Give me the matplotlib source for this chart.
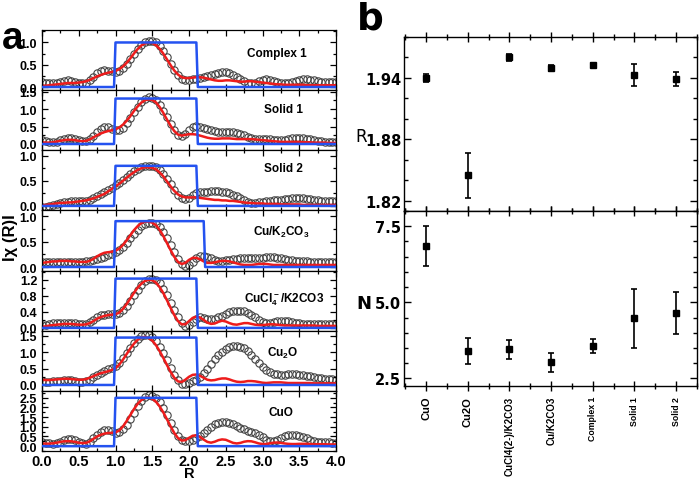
import numpy as np
import matplotlib.pyplot as plt
from matplotlib.ticker import MultipleLocator

plt.rcParams['font.family'] = ['Liberation Sans', 'DejaVu Sans']
plt.rcParams['font.weight'] = 'bold'
plt.rcParams['mathtext.fontset'] = 'custom'
plt.rcParams['mathtext.rm'] = 'Liberation Sans:bold'
plt.rcParams['mathtext.bf'] = 'Liberation Sans:bold'
plt.rcParams['mathtext.default'] = 'bf'

# ---- panel a: |chi(R)| on an R grid 0..4 (step 0.05) ----
r_grid = np.round(np.arange(81) * 0.05, 2)

# open circles (data) and red line (fit)
exp_complex1 = [0.11, 0.10, 0.09, 0.09, 0.10, 0.12, 0.14, 0.15, 0.14, 0.12, 0.10, 0.09, 0.10, 0.15, 0.23, 0.31, 0.36, 0.38, 0.37, 0.35,
                0.34, 0.36, 0.42, 0.51, 0.62, 0.74, 0.86, 0.95, 1.01, 1.04, 1.04, 1.00, 0.92, 0.81, 0.67, 0.52, 0.38, 0.26, 0.18, 0.15,
                0.15, 0.17, 0.19, 0.21, 0.23, 0.25, 0.28, 0.30, 0.32, 0.33, 0.33, 0.32, 0.28, 0.23, 0.18, 0.13, 0.10, 0.09, 0.10, 0.13,
                0.16, 0.17, 0.16, 0.14, 0.11, 0.09, 0.08, 0.09, 0.11, 0.13, 0.15, 0.17, 0.17, 0.16, 0.15, 0.13, 0.12, 0.11, 0.11, 0.11, 0.11]
fit_complex1 = [0.03, 0.03, 0.04, 0.05, 0.06, 0.07, 0.08, 0.09, 0.09, 0.09, 0.10, 0.11, 0.13, 0.16, 0.20, 0.24, 0.27, 0.30, 0.32, 0.34,
                0.36, 0.40, 0.46, 0.54, 0.64, 0.75, 0.85, 0.93, 0.98, 1.00, 0.99, 0.94, 0.86, 0.75, 0.62, 0.49, 0.37, 0.28, 0.22, 0.20,
                0.20, 0.21, 0.22, 0.22, 0.21, 0.19, 0.17, 0.15, 0.14, 0.14, 0.15, 0.15, 0.14, 0.13, 0.12, 0.12, 0.13, 0.13, 0.12, 0.11,
                0.10, 0.09, 0.08, 0.07, 0.06, 0.06, 0.05, 0.05, 0.05, 0.05, 0.05, 0.05, 0.04, 0.04, 0.04, 0.04, 0.04, 0.04, 0.04, 0.04, 0.04]

exp_solid1 = [0.12, 0.09, 0.06, 0.05, 0.07, 0.10, 0.14, 0.17, 0.17, 0.15, 0.11, 0.08, 0.08, 0.13, 0.22, 0.33, 0.43, 0.48, 0.48, 0.44,
              0.39, 0.40, 0.47, 0.59, 0.74, 0.91, 1.07, 1.20, 1.29, 1.33, 1.32, 1.25, 1.12, 0.95, 0.76, 0.56, 0.39, 0.27, 0.24, 0.30,
              0.40, 0.48, 0.51, 0.50, 0.47, 0.43, 0.40, 0.37, 0.35, 0.34, 0.34, 0.35, 0.34, 0.32, 0.29, 0.25, 0.21, 0.17, 0.15, 0.14,
              0.14, 0.14, 0.13, 0.12, 0.11, 0.11, 0.12, 0.14, 0.16, 0.17, 0.17, 0.17, 0.15, 0.13, 0.11, 0.09, 0.08, 0.07, 0.07, 0.07, 0.07]
fit_solid1 = [0.05, 0.04, 0.04, 0.05, 0.07, 0.09, 0.11, 0.12, 0.12, 0.11, 0.09, 0.08, 0.09, 0.13, 0.19, 0.25, 0.30, 0.34, 0.37, 0.39,
              0.42, 0.47, 0.55, 0.66, 0.79, 0.94, 1.07, 1.18, 1.25, 1.28, 1.26, 1.19, 1.06, 0.89, 0.70, 0.52, 0.37, 0.27, 0.24, 0.26,
              0.28, 0.28, 0.27, 0.24, 0.21, 0.18, 0.16, 0.15, 0.15, 0.16, 0.16, 0.16, 0.15, 0.14, 0.14, 0.14, 0.14, 0.14, 0.13, 0.12,
              0.11, 0.10, 0.09, 0.08, 0.07, 0.06, 0.06, 0.06, 0.06, 0.06, 0.06, 0.05, 0.05, 0.05, 0.04, 0.04, 0.04, 0.04, 0.03, 0.03, 0.03]

exp_solid2 = [-0.03, -0.02, 0.00, 0.02, 0.04, 0.05, 0.07, 0.08, 0.09, 0.09, 0.09, 0.09, 0.10, 0.12, 0.15, 0.19, 0.23, 0.27, 0.31, 0.36,
              0.41, 0.46, 0.52, 0.58, 0.64, 0.69, 0.74, 0.77, 0.79, 0.80, 0.80, 0.77, 0.72, 0.64, 0.54, 0.43, 0.32, 0.22, 0.15, 0.13,
              0.16, 0.21, 0.25, 0.27, 0.28, 0.28, 0.29, 0.29, 0.29, 0.28, 0.27, 0.25, 0.22, 0.19, 0.15, 0.11, 0.08, 0.06, 0.06, 0.07,
              0.08, 0.09, 0.10, 0.11, 0.11, 0.12, 0.13, 0.14, 0.15, 0.15, 0.15, 0.15, 0.14, 0.13, 0.12, 0.11, 0.10, 0.10, 0.09, 0.09, 0.09]
fit_solid2 = [0.01, 0.02, 0.03, 0.04, 0.05, 0.06, 0.06, 0.07, 0.07, 0.08, 0.09, 0.10, 0.11, 0.13, 0.15, 0.18, 0.21, 0.24, 0.29, 0.34,
              0.39, 0.44, 0.50, 0.56, 0.62, 0.67, 0.72, 0.75, 0.77, 0.77, 0.76, 0.73, 0.67, 0.59, 0.49, 0.39, 0.30, 0.23, 0.19, 0.17,
              0.17, 0.17, 0.17, 0.16, 0.15, 0.14, 0.13, 0.12, 0.12, 0.11, 0.11, 0.10, 0.10, 0.09, 0.08, 0.07, 0.06, 0.06, 0.05, 0.05,
              0.05, 0.04, 0.04, 0.04, 0.04, 0.03, 0.03, 0.03, 0.03, 0.03, 0.03, 0.02, 0.02, 0.02, 0.02, 0.02, 0.02, 0.02, 0.02, 0.02, 0.02]

exp_cuk2co3 = [0.09, 0.09, 0.09, 0.09, 0.10, 0.10, 0.10, 0.10, 0.10, 0.10, 0.10, 0.10, 0.11, 0.12, 0.14, 0.16, 0.18, 0.20, 0.23, 0.26,
               0.29, 0.34, 0.40, 0.48, 0.56, 0.65, 0.73, 0.80, 0.84, 0.86, 0.86, 0.84, 0.78, 0.69, 0.57, 0.43, 0.29, 0.16, 0.06, 0.01,
               0.03, 0.10, 0.17, 0.21, 0.22, 0.20, 0.17, 0.14, 0.12, 0.12, 0.13, 0.14, 0.15, 0.16, 0.17, 0.17, 0.17, 0.17, 0.17, 0.18,
               0.18, 0.19, 0.19, 0.19, 0.18, 0.17, 0.15, 0.14, 0.13, 0.12, 0.12, 0.11, 0.11, 0.10, 0.10, 0.10, 0.10, 0.10, 0.10, 0.09, 0.09]
fit_cuk2co3 = [0.08, 0.09, 0.10, 0.11, 0.11, 0.12, 0.12, 0.12, 0.11, 0.11, 0.10, 0.10, 0.10, 0.12, 0.16, 0.21, 0.25, 0.28, 0.29, 0.30,
               0.32, 0.36, 0.43, 0.52, 0.62, 0.72, 0.80, 0.86, 0.89, 0.89, 0.87, 0.82, 0.73, 0.61, 0.47, 0.33, 0.20, 0.10, 0.06, 0.08,
               0.14, 0.18, 0.18, 0.15, 0.11, 0.08, 0.08, 0.09, 0.11, 0.12, 0.12, 0.11, 0.09, 0.07, 0.05, 0.04, 0.04, 0.04, 0.05, 0.06,
               0.06, 0.06, 0.05, 0.04, 0.04, 0.04, 0.04, 0.04, 0.04, 0.04, 0.04, 0.04, 0.04, 0.04, 0.04, 0.04, 0.04, 0.04, 0.04, 0.04, 0.04]

exp_cucl4 = [0.07, 0.08, 0.10, 0.11, 0.12, 0.13, 0.13, 0.13, 0.12, 0.11, 0.10, 0.09, 0.10, 0.14, 0.20, 0.26, 0.31, 0.33, 0.34, 0.34,
             0.34, 0.37, 0.44, 0.54, 0.67, 0.81, 0.95, 1.07, 1.16, 1.21, 1.22, 1.19, 1.11, 0.98, 0.82, 0.63, 0.44, 0.26, 0.12, 0.05,
             0.07, 0.15, 0.23, 0.26, 0.25, 0.23, 0.22, 0.23, 0.26, 0.30, 0.35, 0.39, 0.42, 0.43, 0.43, 0.41, 0.37, 0.32, 0.26, 0.20,
             0.15, 0.13, 0.13, 0.14, 0.16, 0.17, 0.18, 0.17, 0.15, 0.13, 0.11, 0.10, 0.09, 0.09, 0.09, 0.10, 0.10, 0.10, 0.10, 0.09, 0.09]
fit_cucl4 = [0.03, 0.04, 0.06, 0.07, 0.08, 0.09, 0.10, 0.10, 0.10, 0.09, 0.08, 0.08, 0.09, 0.12, 0.17, 0.23, 0.27, 0.30, 0.32, 0.33,
             0.34, 0.38, 0.47, 0.59, 0.73, 0.87, 1.00, 1.10, 1.17, 1.20, 1.19, 1.13, 1.02, 0.87, 0.69, 0.50, 0.32, 0.17, 0.09, 0.09,
             0.17, 0.25, 0.28, 0.26, 0.20, 0.13, 0.10, 0.11, 0.15, 0.18, 0.16, 0.12, 0.09, 0.08, 0.10, 0.12, 0.12, 0.10, 0.08, 0.07,
             0.07, 0.08, 0.09, 0.09, 0.08, 0.07, 0.06, 0.06, 0.06, 0.06, 0.06, 0.06, 0.06, 0.06, 0.06, 0.05, 0.05, 0.05, 0.05, 0.05, 0.05]

exp_cu2o = [0.11, 0.10, 0.10, 0.11, 0.12, 0.13, 0.14, 0.14, 0.14, 0.12, 0.10, 0.09, 0.11, 0.16, 0.23, 0.30, 0.37, 0.43, 0.48, 0.53,
            0.58, 0.68, 0.82, 0.98, 1.14, 1.29, 1.41, 1.49, 1.53, 1.52, 1.46, 1.34, 1.17, 0.97, 0.75, 0.53, 0.32, 0.14, 0.04, 0.02,
            0.06, 0.11, 0.16, 0.25, 0.37, 0.50, 0.64, 0.78, 0.91, 1.02, 1.10, 1.15, 1.18, 1.19, 1.17, 1.12, 1.03, 0.92, 0.79, 0.66,
            0.54, 0.45, 0.39, 0.35, 0.33, 0.32, 0.32, 0.33, 0.33, 0.33, 0.32, 0.30, 0.28, 0.26, 0.24, 0.22, 0.20, 0.19, 0.18, 0.17, 0.16]
fit_cu2o = [0.16, 0.15, 0.15, 0.16, 0.17, 0.18, 0.19, 0.19, 0.18, 0.17, 0.16, 0.16, 0.18, 0.22, 0.27, 0.32, 0.36, 0.39, 0.42, 0.46,
            0.51, 0.62, 0.77, 0.94, 1.11, 1.26, 1.38, 1.45, 1.47, 1.44, 1.36, 1.22, 1.04, 0.83, 0.61, 0.40, 0.22, 0.11, 0.09, 0.16,
            0.25, 0.31, 0.32, 0.28, 0.22, 0.16, 0.14, 0.15, 0.18, 0.20, 0.20, 0.17, 0.13, 0.10, 0.09, 0.10, 0.12, 0.12, 0.11, 0.09,
            0.07, 0.06, 0.07, 0.08, 0.08, 0.08, 0.07, 0.06, 0.06, 0.06, 0.06, 0.06, 0.06, 0.06, 0.05, 0.05, 0.05, 0.05, 0.05, 0.05, 0.05]

exp_cuo = [0.23, 0.18, 0.14, 0.12, 0.15, 0.22, 0.30, 0.36, 0.37, 0.33, 0.24, 0.15, 0.13, 0.22, 0.40, 0.59, 0.74, 0.82, 0.82, 0.76,
           0.70, 0.73, 0.87, 1.10, 1.40, 1.73, 2.06, 2.34, 2.53, 2.62, 2.61, 2.49, 2.26, 1.95, 1.59, 1.21, 0.85, 0.55, 0.34, 0.25,
           0.27, 0.33, 0.42, 0.55, 0.70, 0.86, 1.01, 1.13, 1.21, 1.25, 1.25, 1.22, 1.15, 1.06, 0.96, 0.87, 0.80, 0.74, 0.66, 0.56,
           0.45, 0.34, 0.28, 0.27, 0.32, 0.41, 0.50, 0.56, 0.58, 0.57, 0.53, 0.47, 0.40, 0.33, 0.27, 0.23, 0.21, 0.20, 0.19, 0.18, 0.17]
fit_cuo = [0.14, 0.13, 0.13, 0.15, 0.18, 0.22, 0.25, 0.26, 0.25, 0.22, 0.18, 0.16, 0.17, 0.25, 0.38, 0.50, 0.59, 0.65, 0.68, 0.69,
           0.71, 0.81, 1.01, 1.29, 1.60, 1.91, 2.18, 2.38, 2.49, 2.51, 2.45, 2.30, 2.06, 1.75, 1.39, 1.02, 0.68, 0.42, 0.29, 0.31,
           0.43, 0.54, 0.56, 0.48, 0.34, 0.22, 0.18, 0.23, 0.31, 0.35, 0.33, 0.25, 0.17, 0.14, 0.17, 0.23, 0.26, 0.25, 0.20, 0.14,
           0.11, 0.11, 0.15, 0.18, 0.19, 0.17, 0.14, 0.12, 0.11, 0.11, 0.12, 0.12, 0.12, 0.11, 0.10, 0.10, 0.10, 0.10, 0.09, 0.09, 0.09]

sample_names = ['Complex 1', 'Solid 1', 'Solid 2', 'Cu/K$_2$CO$_3$',
                'CuCl$_4^-$/K2CO3', 'Cu$_2$O', 'CuO']
exp_curves = [exp_complex1, exp_solid1, exp_solid2, exp_cuk2co3, exp_cucl4, exp_cu2o, exp_cuo]
fit_curves = [fit_complex1, fit_solid1, fit_solid2, fit_cuk2co3, fit_cucl4, fit_cu2o, fit_cuo]

# fitting window (blue box): start, end, height
win_start = [1.0, 1.0, 1.0, 1.0, 1.0, 1.0, 1.0]
win_end = [2.1, 2.1, 2.1, 2.2, 2.1, 2.1, 2.1]
win_height = [1.0, 1.3, 0.8, 0.9, 1.23, 1.45, 2.5]

# ---- panel b: fitted Cu-O distance R and coordination number N ----
b_labels = ['CuO', 'Cu2O', 'CuCl4(2-)/K2CO3', 'Cu/K2CO3', 'Complex 1', 'Solid 1', 'Solid 2']
r_vals = [1.940, 1.845, 1.960, 1.950, 1.953, 1.943, 1.939]
r_errs = [0.004, 0.022, 0.003, 0.003, 0.002, 0.011, 0.0065]
n_vals = [6.84, 3.39, 3.45, 3.03, 3.55, 4.47, 4.64]
n_errs = [0.66, 0.43, 0.30, 0.31, 0.23, 0.98, 0.69]

fig = plt.figure(figsize=(7, 4.81), dpi=100)
W, H = 700.0, 481.0

# panel a layout (pixels)
a_left, a_right, a_top, a_bottom = 42, 336, 31, 452
ph = (a_bottom - a_top) / 7.0
ylims = [(-0.07, 1.28), (-0.18, 1.54), (-0.09, 1.11), (-0.07, 1.11),
         (-0.07, 1.43), (-0.18, 1.66), (-0.25, 2.86)]
ysteps = [0.5, 0.5, 0.5, 0.5, 0.4, 0.5, 0.5]
label_pos = [(3.2, 0.77), (3.28, 1.0), (3.29, 0.76), (3.25, 0.70),
             (3.3, 0.72), (3.27, 0.98), (3.25, 1.75)]

for i in range(7):
    top = a_top + i * ph
    ax = fig.add_axes([a_left / W, 1 - (top + ph) / H, (a_right - a_left) / W, ph / H])
    ax.plot(r_grid, exp_curves[i], 'o', mfc='none', mec='#444444', ms=5.3, mew=0.8, zorder=1)
    ax.plot(r_grid, fit_curves[i], color='#ee1c1c', lw=1.8, zorder=2)
    lo, hi, h = win_start[i], win_end[i], win_height[i]
    ax.plot([0, lo - 0.02, lo, hi, hi + 0.02, 4.0], [0, 0, h, h, 0, 0],
            color='#2452f0', lw=1.8, zorder=3)
    ax.text(label_pos[i][0], label_pos[i][1], sample_names[i], ha='center', va='center',
            fontsize=8.5, fontweight='bold')
    ax.set_xlim(0, 4.0)
    ax.set_ylim(*ylims[i])
    ax.xaxis.set_major_locator(MultipleLocator(0.5))
    ax.xaxis.set_minor_locator(MultipleLocator(0.25))
    ax.yaxis.set_major_locator(MultipleLocator(ysteps[i]))
    ax.yaxis.set_minor_locator(MultipleLocator(ysteps[i] / 2))
    ax.yaxis.set_major_formatter(plt.FormatStrFormatter('%.1f'))
    ax.tick_params(which='both', direction='in', top=True, right=True, labelsize=9, width=0.9)
    ax.tick_params(which='major', length=4)
    ax.tick_params(which='minor', length=2)
    for s in ax.spines.values():
        s.set_linewidth(0.9)
    if i < 6:
        ax.tick_params(labelbottom=False)
    else:
        ax.tick_params(axis='x', labelsize=10.5, pad=2)

fig.text(189 / W, 1 - 474 / H, 'R', ha='center', va='center', fontsize=10.5, fontweight='bold')
fig.text(11 / W, 1 - 238 / H, 'Iχ (R)I', rotation=90, ha='center', va='center',
         fontsize=12, fontweight='bold')
fig.text(13 / W, 1 - 39 / H, 'a', ha='center', va='center', fontsize=28, fontweight='bold')

# panel b layout
b_left, b_right, b_top, b_mid, b_bottom = 404, 697, 38, 212, 387
x = np.arange(len(b_labels))
axr = fig.add_axes([b_left / W, 1 - b_mid / H, (b_right - b_left) / W, (b_mid - b_top) / H])
axn = fig.add_axes([b_left / W, 1 - b_bottom / H, (b_right - b_left) / W, (b_bottom - b_mid) / H])

axr.errorbar(x, r_vals, yerr=r_errs, fmt='s', color='black', ms=5, capsize=2.3,
             elinewidth=1.2, capthick=1.2)
axn.errorbar(x, n_vals, yerr=n_errs, fmt='s', color='black', ms=5, capsize=2.3,
             elinewidth=1.2, capthick=1.2)

for ax in (axr, axn):
    ax.set_xlim(-0.53, 6.5)
    ax.set_xticks(x)
    ax.xaxis.set_minor_locator(MultipleLocator(0.5))
    ax.tick_params(axis='x', which='both', direction='inout', top=True, width=1.0)
    ax.tick_params(axis='x', which='major', length=7)
    ax.tick_params(axis='x', which='minor', length=4)
    ax.tick_params(axis='y', which='both', direction='in', right=True, width=1.0,
                   labelfontfamily='DejaVu Sans', labelsize=10.5, pad=2)
    ax.tick_params(axis='y', which='major', length=5)
    ax.tick_params(axis='y', which='minor', length=3)
    for s in ax.spines.values():
        s.set_linewidth(1.0)

axr.set_ylim(1.81, 1.98)
axr.set_yticks([1.82, 1.88, 1.94])
axr.yaxis.set_minor_locator(MultipleLocator(0.02))
axr.yaxis.set_major_formatter(plt.FormatStrFormatter('%.2f'))
axr.tick_params(labelbottom=False)

axn.set_ylim(2.25, 8.0)
axn.set_yticks([2.5, 5.0, 7.5])
axn.yaxis.set_minor_locator(MultipleLocator(0.5))
axn.yaxis.set_major_formatter(plt.FormatStrFormatter('%.1f'))
axn.set_xticklabels(b_labels, rotation=90, fontweight='bold')
b_label_sizes = [8, 8, 7, 7, 6.3, 6.3, 6.3]
for lab, fs in zip(axn.get_xticklabels(), b_label_sizes):
    lab.set_fontsize(fs)
    lab.set_fontfamily(['Liberation Sans', 'DejaVu Sans'])

fig.text(361 / W, 1 - 137 / H, 'R', ha='center', va='center', fontsize=12,
         fontweight='normal', family='DejaVu Sans')
fig.text(364 / W, 1 - 304 / H, 'N', ha='center', va='center', fontsize=13,
         fontweight='bold', family='DejaVu Sans')
fig.text(370 / W, 1 - 20 / H, 'b', ha='center', va='center', fontsize=27,
         fontweight='bold', family='DejaVu Sans')

fig.savefig('out.png', dpi=100)
